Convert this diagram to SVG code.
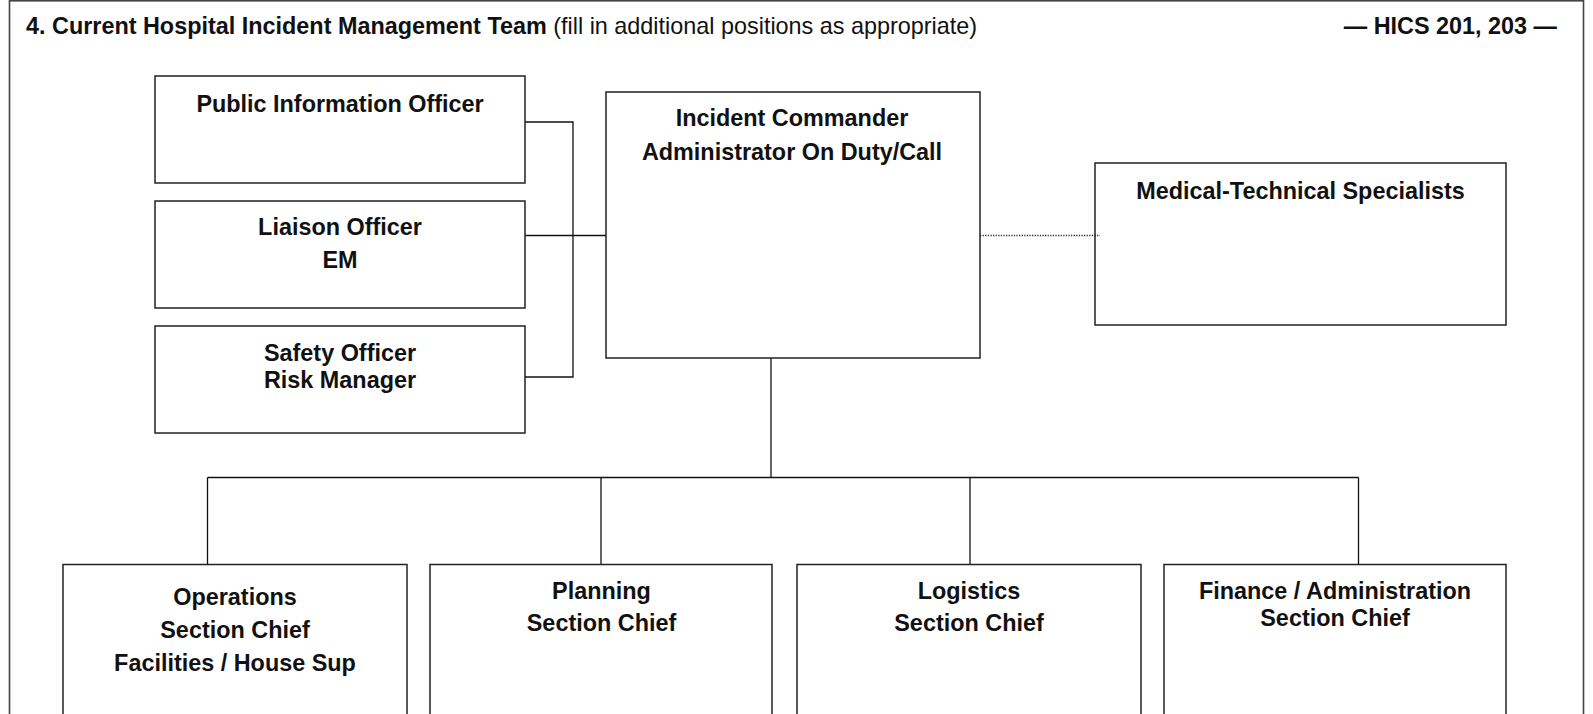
<svg xmlns="http://www.w3.org/2000/svg" width="1593" height="714" viewBox="0 0 1593 714">
<style>
.frame{fill:none;stroke:#444;stroke-width:1.6}
.box{fill:none;stroke:#222;stroke-width:1.5}
.ln{fill:none;stroke:#111;stroke-width:1.3}
.dot{fill:none;stroke:#333;stroke-width:1.3;stroke-dasharray:1.3 1.3}
text{font-family:"Liberation Sans",Arial,sans-serif;fill:#111;font-size:23.4px}
.b{font-weight:bold}
.c{text-anchor:middle;font-weight:bold}
</style>
<rect width="1593" height="714" fill="#fff"/>
<rect class="frame" x="9.5" y="0.8" width="1574" height="730"/>
<g id="title">
<text x="26" y="33.5"><tspan class="b">4. Current Hospital Incident Management Team</tspan> (fill in additional positions as appropriate)</text>
<text class="b" x="1557" y="33.5" text-anchor="end">— HICS 201, 203 —</text>
</g>
<g id="connectors">
<polyline class="ln" points="525,122 573,122 573,377 525,377"/>
<line class="ln" x1="525" y1="235.5" x2="606" y2="235.5"/>
<line class="dot" x1="980" y1="235.5" x2="1100" y2="235.5"/>
<line class="ln" x1="771" y1="358" x2="771" y2="477.5"/>
<line class="ln" x1="207.5" y1="477.5" x2="1358.5" y2="477.5"/>
<line class="ln" x1="207.5" y1="477.5" x2="207.5" y2="564.5"/>
<line class="ln" x1="601" y1="477.5" x2="601" y2="564.5"/>
<line class="ln" x1="970" y1="477.5" x2="970" y2="564.5"/>
<line class="ln" x1="1358.5" y1="477.5" x2="1358.5" y2="564.5"/>
</g>
<g id="pio">
<rect class="box" x="155" y="76" width="370" height="107"/>
<text class="c" x="340" y="111.5">Public Information Officer</text>
</g>
<g id="liaison">
<rect class="box" x="155" y="201" width="370" height="107"/>
<text class="c" x="340" y="235">Liaison Officer</text>
<text class="c" x="340" y="268">EM</text>
</g>
<g id="safety">
<rect class="box" x="155" y="326" width="370" height="107"/>
<text class="c" x="340" y="360.5">Safety Officer</text>
<text class="c" x="340" y="387.5">Risk Manager</text>
</g>
<g id="ic">
<rect class="box" x="606" y="92" width="374" height="266"/>
<text class="c" x="792" y="126">Incident Commander</text>
<text class="c" x="792" y="159.5">Administrator On Duty/Call</text>
</g>
<g id="medtech">
<rect class="box" x="1095" y="163" width="411" height="162"/>
<text class="c" x="1300.5" y="198.5">Medical-Technical Specialists</text>
</g>
<g id="operations">
<rect class="box" x="63" y="564.5" width="344" height="200"/>
<text class="c" x="235" y="605">Operations</text>
<text class="c" x="235" y="638">Section Chief</text>
<text class="c" x="235" y="671">Facilities / House Sup</text>
</g>
<g id="planning">
<rect class="box" x="430" y="564.5" width="342" height="200"/>
<text class="c" x="601.5" y="598.5">Planning</text>
<text class="c" x="601.5" y="630.5">Section Chief</text>
</g>
<g id="logistics">
<rect class="box" x="797" y="564.5" width="344" height="200"/>
<text class="c" x="969" y="598.5">Logistics</text>
<text class="c" x="969" y="630.5">Section Chief</text>
</g>
<g id="finance">
<rect class="box" x="1164" y="564.5" width="342" height="200"/>
<text class="c" x="1335" y="598.5">Finance / Administration</text>
<text class="c" x="1335" y="625.5">Section Chief</text>
</g>
</svg>
